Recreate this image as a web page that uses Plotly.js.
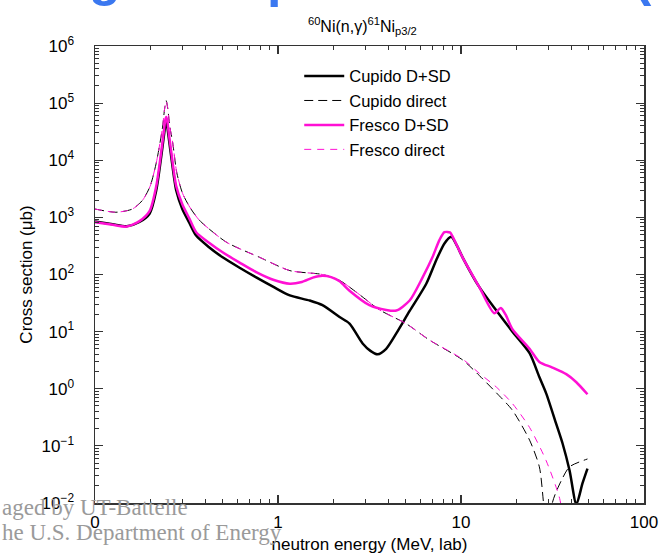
<!DOCTYPE html>
<html>
<head>
<meta charset="utf-8">
<script src="https://cdn.plot.ly/plotly-3.0.1.min.js"></script>
<style>html,body{margin:0;padding:0;background:#fff;}#chart{width:662px;height:555px;}</style>
</head>
<body>
<div id="chart"></div>
<script>
// Cupido D+SD (solid black)
const cupidoDSD_E = [0.1, 0.125, 0.149, 0.175, 0.199, 0.216, 0.230, 0.238, 0.242, 0.245, 0.248, 0.252, 0.261, 0.278, 0.30, 0.328, 0.357, 0.42, 0.498, 0.62, 0.76, 0.95, 1.16, 1.49, 1.75, 2.17, 2.46, 2.90, 3.2, 3.5, 3.9, 4.43, 5.24, 6.46, 7.32, 8.12, 8.84, 9.5, 10.2, 12.6, 15.6, 19.1, 23.7, 26.8, 29.2, 33.1, 35.9, 39.2, 42.7, 46.1, 49.1];
const cupidoDSD = [850, 760, 700, 830, 1170, 2950, 11500, 27000, 40000, 45000, 40000, 27000, 11500, 2950, 1400, 800, 480, 300, 200, 130, 89, 60, 43, 35, 29, 18, 13.8, 6.2, 4.6, 4.0, 5.0, 9.3, 23, 69, 178, 350, 457, 320, 200, 60, 23.4, 10, 4.2, 1.6, 0.83, 0.245, 0.11, 0.037, 0.0095, 0.022, 0.04];

// Cupido direct (dashed black)
const cupidoDir_E = [0.1, 0.13, 0.16, 0.182, 0.20, 0.216, 0.234, 0.240, 0.245, 0.250, 0.256, 0.266, 0.28, 0.301, 0.33, 0.372, 0.521, 0.793, 1.16, 1.75, 2.17, 2.8, 3.59, 5.01, 6.73, 10.2, 12.6, 15.6, 19.1, 23.7, 26.8, 28.2, 30.0, 31.6, 35.4, 39.2, 49.1];
const cupidoDir = [1400, 1230, 1400, 2000, 3500, 8900, 38000, 79000, 110000, 79000, 40000, 20000, 6000, 2630, 1500, 890, 370, 200, 117, 100, 79, 44, 24, 13.8, 7.1, 3.2, 1.7, 0.85, 0.42, 0.126, 0.043, 0.0105, 0.001, 0.0102, 0.025, 0.043, 0.059];

// Fresco D+SD (solid magenta)
const frescoDSD_E = [0.1, 0.125, 0.149, 0.175, 0.199, 0.216, 0.230, 0.238, 0.242, 0.245, 0.248, 0.252, 0.261, 0.278, 0.30, 0.328, 0.357, 0.42, 0.498, 0.62, 0.76, 0.95, 1.16, 1.35, 1.55, 1.75, 1.95, 2.17, 2.46, 3.16, 3.90, 4.43, 5.24, 6.17, 6.98, 7.62, 8.12, 8.7, 9.02, 10.2, 12.6, 15.2, 16.5, 17.5, 19.1, 23.7, 26.8, 31.6, 37.6, 42.7, 49.1];
const frescoDSD = [820, 740, 690, 860, 1300, 3500, 14000, 33000, 50000, 57000, 50000, 33000, 14000, 3500, 1700, 950, 550, 360, 245, 160, 110, 80, 69, 74, 88, 95, 90, 76, 52, 29, 24, 23.4, 35, 89, 200, 400, 550, 545, 457, 200, 60, 21, 26, 20, 11, 5.0, 2.95, 2.35, 1.8, 1.3, 0.8];

// Fresco direct (dashed magenta)
const frescoDir_E = [0.1, 0.13, 0.16, 0.182, 0.20, 0.216, 0.234, 0.240, 0.245, 0.250, 0.256, 0.266, 0.28, 0.301, 0.33, 0.372, 0.521, 0.793, 1.16, 1.75, 2.17, 2.8, 3.59, 5.01, 6.73, 10.2, 12.6, 15.6, 19.1, 23.7, 29.2, 34.6, 36.5];
const frescoDir = [1400, 1230, 1400, 2000, 3500, 8900, 38000, 79000, 110000, 79000, 40000, 20000, 6000, 2630, 1500, 890, 370, 200, 117, 100, 79, 44, 24, 13.8, 7.1, 3.3, 1.86, 1.07, 0.55, 0.21, 0.055, 0.012, 0.004];

const xTickVals = [0.1, 1, 10, 100];
const xTickText = ['0', '1', '10', '100'];
const yTickVals = [0.01, 0.1, 1, 10, 100, 1000, 1e4, 1e5, 1e6];
const yTickText = ['10<sup>−2</sup>', '10<sup>−1</sup>', '10<sup>0</sup>', '10<sup>1</sup>', '10<sup>2</sup>', '10<sup>3</sup>', '10<sup>4</sup>', '10<sup>5</sup>', '10<sup>6</sup>'];

function minorTicks(decades) {
  const out = [];
  decades.forEach(function (d) { for (let k = 2; k <= 9; k++) out.push(k * d); });
  return out;
}
const xMinor = minorTicks([0.1, 1, 10]);
const yMinor = minorTicks([0.01, 0.1, 1, 10, 100, 1000, 1e4, 1e5]);

const MAG = '#ff10d4';
const FONT = 'Liberation Sans, Arial, Helvetica, sans-serif';

const traces = [
  {x: cupidoDSD_E, y: cupidoDSD, name: 'Cupido D+SD', mode: 'lines', line: {color: '#000', width: 2.5, shape: 'spline', smoothing: 0.7}},
  {x: cupidoDir_E, y: cupidoDir, name: 'Cupido direct', mode: 'lines', line: {color: '#000', width: 1, dash: '9px,5px', shape: 'spline', smoothing: 0.7}},
  {x: frescoDSD_E, y: frescoDSD, name: 'Fresco D+SD', mode: 'lines', line: {color: MAG, width: 2.5, shape: 'spline', smoothing: 0.7}},
  {x: frescoDir_E, y: frescoDir, name: 'Fresco direct', mode: 'lines', line: {color: MAG, width: 1, dash: '7px,6px', shape: 'spline', smoothing: 0.7}}
];

function axisCommon(minorVals) {
  return {
    showgrid: false, zeroline: false, showline: true, linecolor: '#333', linewidth: 1.5,
    mirror: 'ticks', ticks: 'inside', ticklen: 8, tickwidth: 1.2, tickcolor: '#333',
    tickfont: {family: FONT, size: 17, color: '#000'},
    minor: {tickmode: 'array', tickvals: minorVals, ticks: 'inside', ticklen: 4, tickwidth: 1, tickcolor: '#333', showgrid: false}
  };
}

const blueFont = {family: FONT, size: 52, color: '#3b78f0', weight: 'bold'};
// tall top-aligned boxes whose bottom stays on the page; only the glyph tails show at the top edge
function boxBottom(px) { return 1 - (px - 46)/457; }

const layout = {
  width: 662, height: 555,
  margin: {l: 95, r: 18, t: 46, b: 52},
  paper_bgcolor: '#fff', plot_bgcolor: '#fff',
  font: {family: FONT, color: '#000'},
  showlegend: true,
  title: {text: '<sup>60</sup>Ni(n,γ)<sup>61</sup>Ni<sub>p3/2</sub>', font: {family: FONT, size: 16, color: '#000'},
          xref: 'paper', x: 0.487, xanchor: 'center', yref: 'container', y: 1 - 26/555, yanchor: 'middle'},
  xaxis: Object.assign(axisCommon(xMinor), {
    type: 'log', range: [-1, 2], tickmode: 'array', tickvals: xTickVals, ticktext: xTickText,
    ticklabelstandoff: 3,
    title: {text: 'neutron energy (MeV, lab)', font: {family: FONT, size: 17, color: '#000'}, standoff: 7}
  }),
  yaxis: Object.assign(axisCommon(yMinor), {
    type: 'log', range: [-2, 6], tickmode: 'array', tickvals: yTickVals, ticktext: yTickText,
    ticklabelstandoff: 16,
    title: {text: 'Cross section (μb)', font: {family: FONT, size: 17, color: '#000'}, standoff: 4}
  }),
  legend: {x: 0.372, y: 0.972, xanchor: 'left', yanchor: 'top', bgcolor: 'rgba(0,0,0,0)', borderwidth: 0,
           font: {family: FONT, size: 16.5, color: '#000'}, itemwidth: 40, tracegroupgap: 0},
  annotations: [
    {text: 'g', xref: 'paper', yref: 'paper', x: (105 - 95)/549, y: boxBottom(70), xanchor: 'center', yanchor: 'bottom',
     height: 120, valign: 'top', showarrow: false, font: blueFont},
    {text: 'p', xref: 'paper', yref: 'paper', x: (283 - 95)/549, y: boxBottom(71), xanchor: 'center', yanchor: 'bottom',
     height: 120, valign: 'top', showarrow: false, font: blueFont},
    {text: '(', xref: 'paper', yref: 'paper', x: (643 - 95)/549, y: boxBottom(70), xanchor: 'center', yanchor: 'bottom',
     height: 120, valign: 'top', showarrow: false, font: blueFont},
    {text: 'aged by UT-Battelle', xref: 'paper', yref: 'paper', x: -95/549, y: -(507 - 503)/457, xanchor: 'left', yanchor: 'middle',
     showarrow: false, font: {family: 'Liberation Serif, Times New Roman, serif', size: 23, color: '#9a9a9a'}},
    {text: 'he U.S. Department of Energy', xref: 'paper', yref: 'paper', x: -95/549, y: -(532 - 503)/457, xanchor: 'left', yanchor: 'middle',
     showarrow: false, font: {family: 'Liberation Serif, Times New Roman, serif', size: 23, color: '#9a9a9a'}}
  ]
};

Plotly.newPlot('chart', traces, layout, {displayModeBar: false, staticPlot: true});
</script>
</body>
</html>
